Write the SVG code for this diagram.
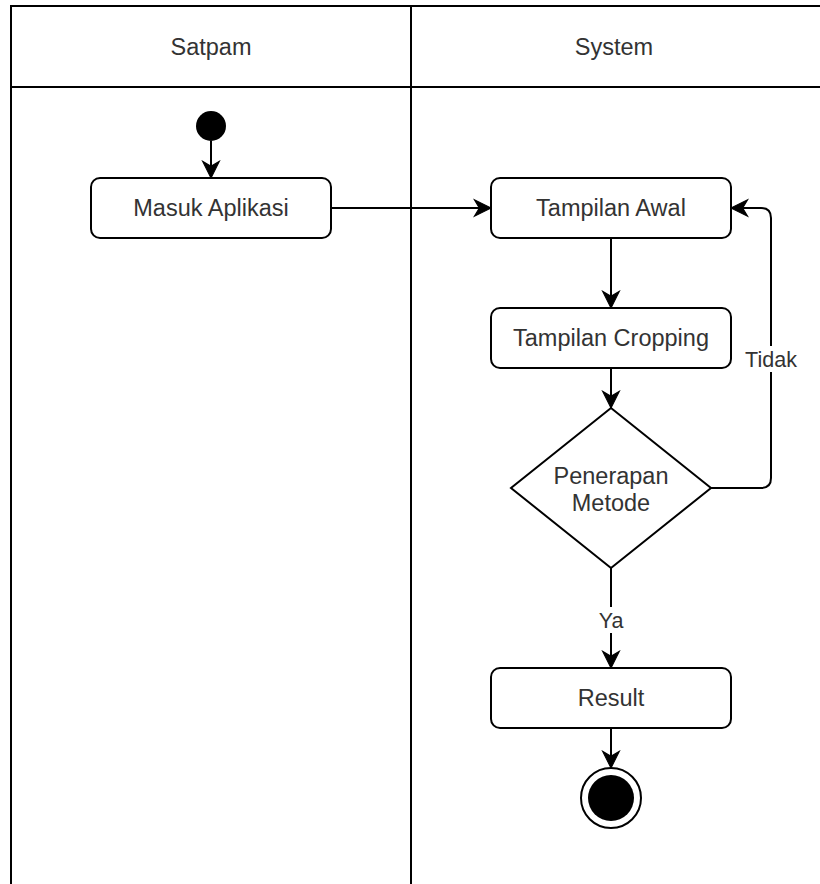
<svg xmlns="http://www.w3.org/2000/svg" width="820" height="884" viewBox="0 0 820 884">
<style>
.ln{fill:none;stroke:#000;stroke-width:2}
.node{fill:#fff;stroke:#000;stroke-width:2}
.t{font-family:"Liberation Sans",Arial,sans-serif;font-size:23.5px;fill:#333;text-anchor:middle}
.lb{font-family:"Liberation Sans",Arial,sans-serif;font-size:21.5px;fill:#333;text-anchor:middle}
.edge{fill:none;stroke:#000;stroke-width:2;marker-end:url(#arr)}
</style>
<defs>
<marker id="arr" markerUnits="userSpaceOnUse" markerWidth="20" markerHeight="20" viewBox="-16 -8 18 16" refX="0" refY="0" orient="auto">
<path d="M0,0 L-15,-7.5 L-10.5,0 L-15,7.5 Z" fill="#000" stroke="#000" stroke-width="1"/>
</marker>
</defs>
<rect x="0" y="0" width="820" height="884" fill="#fff"/>
<g id="pool">
<path class="ln" d="M11,890 V6 H830 M11,87 H830 M411,6 V890"/>
<text class="t" x="211" y="55">Satpam</text>
<text class="t" x="614" y="55">System</text>
</g>
<g id="connectors">
<path class="edge" d="M211,141 V178"/>
<path class="edge" d="M331,208 H491"/>
<path class="edge" d="M611,238 V308"/>
<path class="edge" d="M611,368 V408"/>
<path class="edge" d="M711,488 H761 Q771,488 771,478 V218 Q771,208 761,208 H731"/>
<path class="edge" d="M611,568 V668"/>
<path class="edge" d="M611,728 V768"/>
<rect x="746" y="346" width="50" height="26" fill="#fff"/>
<text class="lb" x="771" y="367">Tidak</text>
<rect x="597" y="607" width="28" height="26" fill="#fff"/>
<text class="lb" x="611" y="628">Ya</text>
</g>
<g id="start"><circle cx="211" cy="126" r="15" fill="#000"/></g>
<g id="masuk"><rect class="node" x="91" y="178" width="240" height="60" rx="9"/><text class="t" x="211" y="216">Masuk Aplikasi</text></g>
<g id="awal"><rect class="node" x="491" y="178" width="240" height="60" rx="9"/><text class="t" x="611" y="216">Tampilan Awal</text></g>
<g id="cropping"><rect class="node" x="491" y="308" width="240" height="60" rx="9"/><text class="t" x="611" y="346">Tampilan Cropping</text></g>
<g id="penerapan"><path class="node" d="M611,408 L711,488 L611,568 L511,488 Z"/><text class="t" x="611" y="484">Penerapan</text><text class="t" x="611" y="511">Metode</text></g>
<g id="result"><rect class="node" x="491" y="668" width="240" height="60" rx="9"/><text class="t" x="611" y="706">Result</text></g>
<g id="end"><circle cx="611" cy="798" r="30" fill="#fff" stroke="#000" stroke-width="2"/><circle cx="611" cy="798" r="23" fill="#000"/></g>
</svg>
